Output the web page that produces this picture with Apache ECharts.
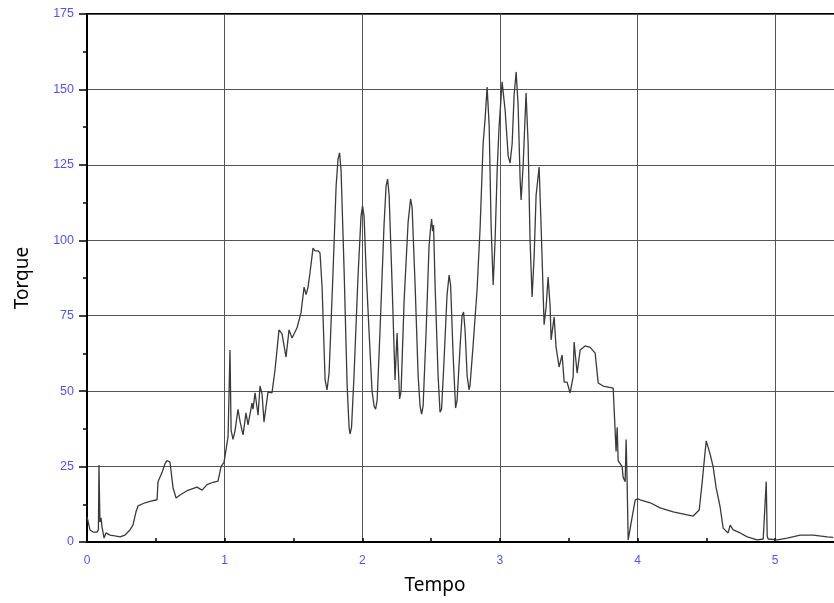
<!DOCTYPE html>
<html>
<head>
<meta charset="utf-8">
<script src="https://cdn.jsdelivr.net/npm/echarts@6/dist/echarts.min.js"></script>
<style>html,body{margin:0;padding:0;background:#fff}#c{width:834px;height:603px}</style>
</head>
<body>
<div id="c"></div>
<script>
const xTicks = [0, 1, 2, 3, 4, 5];
const yTicks = [0, 25, 50, 75, 100, 125, 150, 175];
const xName = 'Tempo';
const yName = 'Torque';

const tempo = [
  0.000, 0.007, 0.022, 0.044, 0.073, 0.083, 0.087, 0.094, 0.102, 0.109, 0.124, 0.138, 0.167, 0.203, 0.240, 0.276,
  0.312, 0.334, 0.356, 0.371, 0.422, 0.458, 0.509, 0.516, 0.545, 0.567, 0.581, 0.603, 0.625, 0.647, 0.676, 0.727,
  0.799, 0.836, 0.872, 0.916, 0.952, 0.974, 0.996, 1.003, 1.025, 1.039, 1.047, 1.061, 1.076, 1.097, 1.112, 1.126,
  1.134, 1.155, 1.170, 1.199, 1.206, 1.221, 1.243, 1.257, 1.272, 1.286, 1.315, 1.344, 1.366, 1.395, 1.417, 1.446,
  1.468, 1.490, 1.526, 1.555, 1.577, 1.592, 1.606, 1.621, 1.642, 1.657, 1.679, 1.693, 1.708, 1.730, 1.744,
  1.759, 1.788, 1.810, 1.824, 1.835, 1.846, 1.868, 1.890, 1.904, 1.911, 1.922,
  1.940, 1.969, 1.991, 2.002, 2.013, 2.028, 2.049, 2.071, 2.086, 2.097, 2.108,
  2.129, 2.158, 2.173, 2.184, 2.195, 2.217, 2.238, 2.253, 2.260, 2.271, 2.282,
  2.304, 2.333, 2.351, 2.362, 2.384, 2.406, 2.420, 2.431, 2.442,
  2.464, 2.485, 2.496, 2.504, 2.511, 2.518, 2.529, 2.551, 2.565, 2.576,
  2.594, 2.616, 2.631, 2.642, 2.660, 2.678, 2.689,
  2.711, 2.725, 2.736, 2.747, 2.762, 2.776, 2.783,
  2.805, 2.834, 2.856, 2.878, 2.892, 2.907, 2.922, 2.936, 2.951, 2.965, 2.980, 2.994,
  3.016, 3.038, 3.060, 3.074, 3.089, 3.103, 3.118, 3.132, 3.147, 3.154, 3.169, 3.190,
  3.205, 3.219, 3.234, 3.249, 3.263, 3.285, 3.299, 3.307, 3.321, 3.336, 3.350, 3.365,
  3.372, 3.394, 3.408, 3.430, 3.452, 3.467, 3.488, 3.510, 3.532, 3.539, 3.561, 3.583,
  3.619, 3.656, 3.692, 3.714, 3.750, 3.823, 3.837, 3.844, 3.852, 3.859, 3.888, 3.895,
  3.910, 3.917, 3.924, 3.932, 3.946, 3.961, 3.983, 4.004, 4.019, 4.092, 4.164, 4.259,
  4.404, 4.448, 4.469, 4.491, 4.499, 4.513, 4.528, 4.549, 4.571, 4.600, 4.622, 4.658,
  4.673, 4.695, 4.746, 4.797, 4.869, 4.913, 4.927, 4.935, 4.942, 4.949, 5.015, 5.087,
  5.182, 5.276, 5.378, 5.422
];

const torque = [
  8.3, 8, 4, 3.3, 3.3, 4, 25.5, 6.6, 8, 5, 1.3, 3, 2.3, 2.0, 1.7, 2.3,
  4, 5.6, 10, 12, 13, 13.5, 14, 20, 23, 26, 27, 26.5, 18, 14.6, 15.6, 17,
  18.2, 17.2, 19, 19.8, 20.2, 25, 26.5, 27, 35, 63.6, 37, 34, 37, 44, 40, 37,
  35.5, 42.8, 38.8, 46, 44, 49.4, 42, 51.7, 49, 39.8, 49.7, 49.4, 57, 70.3, 69, 61.3,
  70.3, 67.6, 71, 76, 84.5, 82, 84.5, 89.5, 97.4, 96.5, 96.5, 95.8, 84.5, 53.7, 50.4,
  56, 90, 118, 127, 129, 123, 90, 52, 38, 35.8, 38,
  55, 88, 108, 111.4, 108, 90, 70, 50, 45, 44, 47,
  70, 105, 118, 120.3, 115, 85, 53.7, 69.3, 60, 47.4, 50,
  80, 106, 113.7, 111, 85, 55, 45, 42.4, 45,
  70, 98, 104, 107, 103, 105, 85, 55, 43, 44,
  60, 82, 88.5, 85, 62, 44.4, 47,
  65, 75, 76.2, 70, 55, 50.4, 52,
  65, 83.5, 104, 132, 140, 150.8, 138, 105, 85.2, 100, 123, 137.6,
  152.5, 143, 128, 125.6, 132, 148, 155.8, 145, 120, 113.4, 125, 148.8,
  132, 100, 81.2, 95, 115, 124.3, 105, 93.5, 72, 78, 87.8, 78,
  67, 74.6, 64.6, 58, 62, 53, 53, 49.4, 54.7, 66.3, 56, 63.6,
  65, 64.5, 62.6, 52.7, 51.7, 51, 37, 30, 38, 27, 25, 21.5,
  20, 34, 20.5, 0.7, 0.5, 8.3, 14, 14.3, 14, 13, 11.3, 10,
  8.6, 10.6, 19.5, 30, 33.5, 33, 29, 25, 18, 11.6, 4.6, 3,
  5.6, 4, 3, 1.7, 0.7, 1, 1.5, 20, 2, 1, 0.7, 1.3,
  2.3, 2.3, 1.7, 1.5
];

const chart = echarts.init(document.getElementById('c'), null, { renderer: 'canvas' });
const xMax = 5.5;
const labelColor = '#5050ff';
const labelFont = 'Liberation Sans';

chart.setOption({
  animation: false,
  backgroundColor: '#ffffff',
  grid: {
    left: 87, top: 14, right: -10, bottom: 61,
    outerBoundsMode: 'none', containLabel: false,
    show: true, borderColor: '#000', borderWidth: 2, backgroundColor: 'transparent'
  },
  xAxis: [
    {
      type: 'value', min: xTicks[0], max: xMax, interval: 1,
      axisLine: { show: true, lineStyle: { color: '#000', width: 2 } },
      axisTick: { show: false },
      axisLabel: {
        color: labelColor, fontFamily: labelFont, fontSize: 12, margin: 13,
        formatter: v => (xTicks.indexOf(v) >= 0 ? String(v) : ''),
        showMaxLabel: false
      },
      splitLine: { show: true, lineStyle: { color: '#555', width: 1 } }
    },
    {
      type: 'value', position: 'bottom', min: xTicks[0], max: xMax, interval: 0.5,
      axisLine: { show: false },
      axisTick: { show: true, inside: true, length: 4, lineStyle: { color: '#000', width: 1.5 } },
      axisLabel: { show: false },
      splitLine: { show: false }
    }
  ],
  yAxis: {
    type: 'value', min: yTicks[0], max: yTicks[yTicks.length - 1], interval: 25,
    axisLine: { show: true, lineStyle: { color: '#000', width: 2 } },
    axisTick: { show: true, inside: false, length: 8, lineStyle: { color: '#000', width: 1.5 } },
    minorTick: { show: true, splitNumber: 2, length: 4, lineStyle: { color: '#000', width: 1.5 } },
    axisLabel: { color: labelColor, fontFamily: labelFont, fontSize: 12.5, margin: 13 },
    splitLine: { show: true, lineStyle: { color: '#555', width: 1 } },
    name: yName, nameLocation: 'middle', nameGap: 55, nameRotate: 90,
    nameTextStyle: { color: '#000', fontFamily: 'Noto Sans', fontSize: 19 }
  },
  graphic: [
    {
      type: 'text', x: 435, y: 586,
      style: { text: xName, fill: '#000', font: '19px "Noto Sans"', textAlign: 'center', textVerticalAlign: 'middle' }
    }
  ],
  series: [
    {
      type: 'line', xAxisIndex: 0,
      data: tempo.map((t, i) => [t, torque[i]]),
      showSymbol: false, symbol: 'none',
      lineStyle: { color: '#3a3a3a', width: 1.3 }
    }
  ]
});
</script>
</body>
</html>
